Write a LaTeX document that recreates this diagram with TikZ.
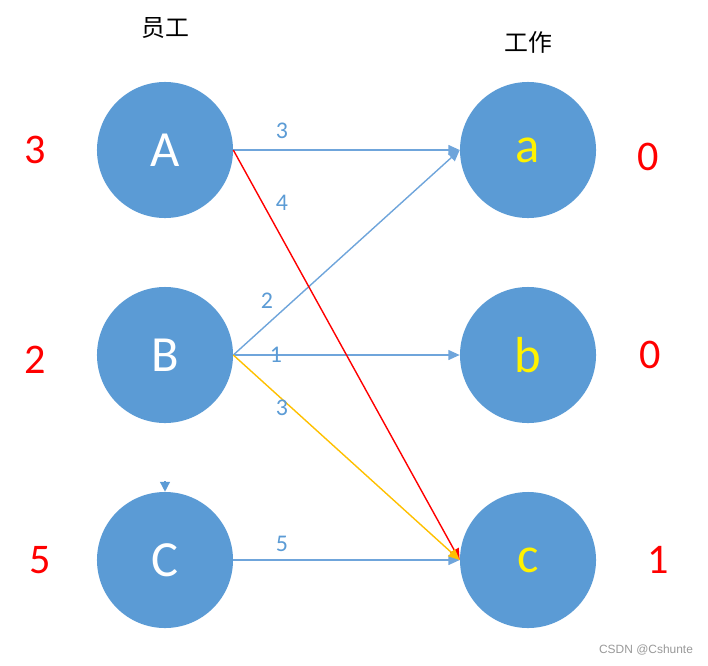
\documentclass[tikz,border=0pt]{standalone}
\usepackage{fontspec}
\setmainfont{Carlito}
\newfontfamily\cjk{Noto Sans CJK SC}
\newfontfamily\marksans{Liberation Sans}
\usetikzlibrary{arrows.meta}
\definecolor{circblue}{HTML}{5B9BD5}
\definecolor{edgeblue}{HTML}{6FA5DB}
\definecolor{edgeorange}{HTML}{FFC000}
\begin{document}
\begin{tikzpicture}[
    x=0.025cm, y=-0.025cm,
    person/.style={circle, fill=circblue, minimum size=3.4cm, inner sep=0pt, text=white, font=\fontsize{36}{40}\selectfont},
    job/.style={person, text=yellow},
    cost/.style={text=red, font=\fontsize{30}{34}\selectfont},
    weight/.style={text=circblue, font=\fontsize{17}{20}\selectfont},
    title/.style={font=\cjk\fontsize{17}{20}\selectfont},
    edge/.style={line width=1pt, -{Triangle[length=8pt, width=7pt]}},
    ]
    \useasboundingbox (0,0) rectangle (708,665);

    % Titles
    \node[title] (staff) at (165,28) {员工};
    \node[title] (work) at (528,42) {工作};

    % Left column: staff
    \node[person] (A) at (165,150) {A};
    \node[person] (B) at (165,355) {B};
    \node[person] (C) at (165,560) {C};

    % Right column: jobs
    \node[job] (a) at (528,150) {a};
    \node[job] (b) at (528,355) {b};
    \node[job] (c) at (528,560) {c};

    % Labels
    \node[cost] (ca) at (35,150) {3};
    \node[cost] (cb) at (35,360) {2};
    \node[cost] (cc) at (40,560) {5};
    \node[cost] (la) at (648,157) {0};
    \node[cost] (lb) at (650,355) {0};
    \node[cost] (lc) at (658,560) {1};

    % Edges
    \draw[edge, edgeblue] (A.east) -- (a.west);
    \draw[edge, edgeblue] (B.east) -- (a.west);
    \draw[edge, edgeblue] (B.east) -- (b.west);
    \draw[edge, edgeblue] (C.east) -- (c.west);
    \draw[edge, red] (A.east) -- (c.west);
    \draw[edge, edgeorange] (B.east) -- (c.west);

    % Weights
    \node[weight] (wAa) at (282,131) {3};
    \node[weight] (wAc) at (282,203) {4};
    \node[weight] (wBa) at (267,301) {2};
    \node[weight] (wBb) at (276,355) {1};
    \node[weight] (wBc) at (282,408) {3};
    \node[weight] (wCc) at (282,544) {5};

    % Marker on C
    \coordinate (mark) at (165,481);
    \draw[circblue, line width=1pt, -{Triangle[length=7pt, width=7pt]}] (mark) -- (C.north);

    % Watermark
    \node[text=gray!80, font=\marksans\fontsize{8.5}{10}\selectfont] (csdn) at (646,650) {CSDN @Cshunte};
  \end{tikzpicture}
\end{document}
